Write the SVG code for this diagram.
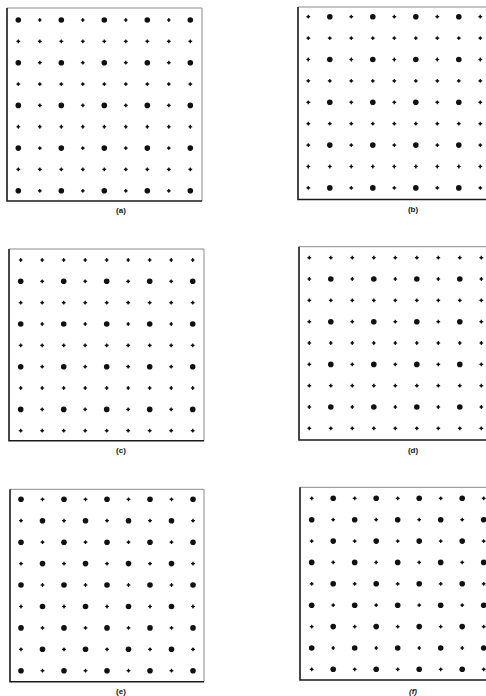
<svg xmlns="http://www.w3.org/2000/svg" xmlns:xlink="http://www.w3.org/1999/xlink" width="486" height="696" viewBox="0 0 486 696">
<style>
.frame-main{stroke:#1a1a1a;stroke-width:1.6;fill:none}
.frame-light{stroke:#8a8a8a;stroke-width:1;fill:none}
.big{fill:#111}
.small{stroke:#111;stroke-width:1.2;fill:none}
.smalldot{fill:#111}
.lbl{font-family:"Liberation Sans",Arial,sans-serif;font-size:8px;font-weight:bold;fill:#111;text-anchor:middle}
</style>
<defs>
<g id="L"><circle r="2.8" class="big"/></g>
<g id="S"><path d="M-1.9,0H1.9M0,-1.9V1.9" class="small"/><circle r="1.2" class="smalldot"/></g>
<g id="rowE">
<use href="#L" x="0"/><use href="#S" x="21.5"/><use href="#L" x="43"/><use href="#S" x="64.5"/><use href="#L" x="86"/><use href="#S" x="107.5"/><use href="#L" x="129"/><use href="#S" x="150.5"/><use href="#L" x="172"/>
</g>
<g id="rowO">
<use href="#S" x="0"/><use href="#L" x="21.5"/><use href="#S" x="43"/><use href="#L" x="64.5"/><use href="#S" x="86"/><use href="#L" x="107.5"/><use href="#S" x="129"/><use href="#L" x="150.5"/><use href="#S" x="172"/>
</g>
<g id="rowS">
<use href="#S" x="0"/><use href="#S" x="21.5"/><use href="#S" x="43"/><use href="#S" x="64.5"/><use href="#S" x="86"/><use href="#S" x="107.5"/><use href="#S" x="129"/><use href="#S" x="150.5"/><use href="#S" x="172"/>
</g>
</defs>
<rect width="486" height="696" fill="#fff"/>

<g id="panel-a">
<path d="M7,8H202V201" class="frame-light"/>
<path d="M7,8V201H202" class="frame-main"/>
<use href="#rowE" x="18.3" y="20"/>
<use href="#rowS" x="18.3" y="41.35"/>
<use href="#rowE" x="18.3" y="62.7"/>
<use href="#rowS" x="18.3" y="84.05"/>
<use href="#rowE" x="18.3" y="105.4"/>
<use href="#rowS" x="18.3" y="126.75"/>
<use href="#rowE" x="18.3" y="148.1"/>
<use href="#rowS" x="18.3" y="169.45"/>
<use href="#rowE" x="18.3" y="190.8"/>
<text x="121" y="213" class="lbl">(a)</text>
</g>

<g id="panel-b">
<path d="M298,7H486" class="frame-light"/>
<path d="M298,7V199.5H486" class="frame-main"/>
<use href="#rowO" x="308.3" y="16.7"/>
<use href="#rowS" x="308.3" y="38.1"/>
<use href="#rowO" x="308.3" y="59.5"/>
<use href="#rowS" x="308.3" y="80.9"/>
<use href="#rowO" x="308.3" y="102.3"/>
<use href="#rowS" x="308.3" y="123.7"/>
<use href="#rowO" x="308.3" y="145.1"/>
<use href="#rowS" x="308.3" y="166.5"/>
<use href="#rowO" x="308.3" y="187.9"/>
<text x="413" y="212" class="lbl">(b)</text>
</g>

<g id="panel-c">
<path d="M9,249H204V440.7" class="frame-light"/>
<path d="M9,249V440.7H204" class="frame-main"/>
<use href="#rowS" x="20.7" y="260"/>
<use href="#rowE" x="20.7" y="281.3"/>
<use href="#rowS" x="20.7" y="302.7"/>
<use href="#rowE" x="20.7" y="324"/>
<use href="#rowS" x="20.7" y="345.4"/>
<use href="#rowE" x="20.7" y="366.7"/>
<use href="#rowS" x="20.7" y="388"/>
<use href="#rowE" x="20.7" y="409.4"/>
<use href="#rowS" x="20.7" y="430.7"/>
<text x="121" y="453" class="lbl">(c)</text>
</g>

<g id="panel-d">
<path d="M299,246.7H486" class="frame-light"/>
<path d="M299,246.7V440H486" class="frame-main"/>
<use href="#rowS" x="309.3" y="257.7"/>
<use href="#rowO" x="309.3" y="279"/>
<use href="#rowS" x="309.3" y="300.4"/>
<use href="#rowO" x="309.3" y="321.7"/>
<use href="#rowS" x="309.3" y="343"/>
<use href="#rowO" x="309.3" y="364.4"/>
<use href="#rowS" x="309.3" y="385.7"/>
<use href="#rowO" x="309.3" y="407"/>
<use href="#rowS" x="309.3" y="428.3"/>
<text x="413" y="453" class="lbl">(d)</text>
</g>

<g id="panel-e">
<path d="M10,489.3H204V681.7" class="frame-light"/>
<path d="M10,489.3V681.7H204" class="frame-main"/>
<use href="#rowE" x="21" y="499.3"/>
<use href="#rowO" x="21" y="520.7"/>
<use href="#rowE" x="21" y="542.2"/>
<use href="#rowO" x="21" y="563.6"/>
<use href="#rowE" x="21" y="585"/>
<use href="#rowO" x="21" y="606.5"/>
<use href="#rowE" x="21" y="627.9"/>
<use href="#rowO" x="21" y="649.3"/>
<use href="#rowE" x="21" y="670.7"/>
<text x="121" y="694" class="lbl">(e)</text>
</g>

<g id="panel-f">
<path d="M300,487.3H486" class="frame-light"/>
<path d="M300,487.3V680H486" class="frame-main"/>
<use href="#rowO" x="311.7" y="498.3"/>
<use href="#rowE" x="311.7" y="519.7"/>
<use href="#rowO" x="311.7" y="541.1"/>
<use href="#rowE" x="311.7" y="562.4"/>
<use href="#rowO" x="311.7" y="583.8"/>
<use href="#rowE" x="311.7" y="605.2"/>
<use href="#rowO" x="311.7" y="626.6"/>
<use href="#rowE" x="311.7" y="648"/>
<use href="#rowO" x="311.7" y="669.3"/>
<text x="413" y="694" class="lbl" font-style="italic">(f)</text>
</g>
</svg>
